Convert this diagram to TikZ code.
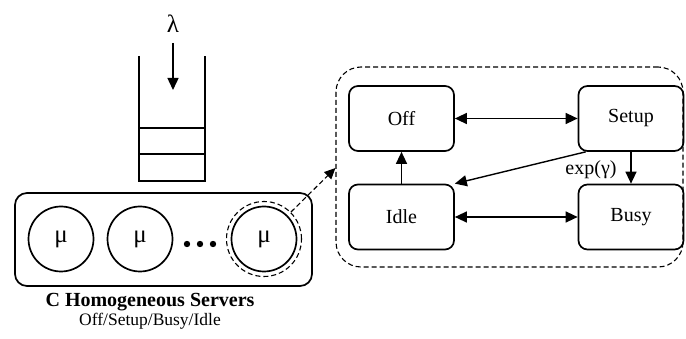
\documentclass[tikz,border=0pt]{standalone}
\usepackage{fontspec}
\setmainfont{Liberation Serif}
\usetikzlibrary{arrows.meta}
\begin{document}
\begin{tikzpicture}[x=1pt,y=-1pt,
  every node/.style={font=\fontsize{20}{24}\selectfont},
  state/.style={draw,line width=1.7pt,rounded corners=9pt,minimum width=105pt,minimum height=65pt,inner sep=0pt},
  srv/.style={draw,circle,line width=1.7pt,minimum size=65pt,inner sep=0pt,font=\fontsize{25}{28}\selectfont},
  dsh/.style={line width=1.1pt,dash pattern=on 5pt off 3pt},
  tr/.style={line width=1.4pt,-{Triangle[length=12pt,width=11pt]}},
  trr/.style={line width=1.4pt,{Triangle[length=12pt,width=11pt]}-{Triangle[length=12pt,width=11pt]}}]
\useasboundingbox (0,0) rectangle (686,339);
% arrival
\node[font=\fontsize{25}{28}\selectfont] (lam) at (173,24) {λ};
\coordinate (qin) at (173,43);
\coordinate (qtop) at (173,90);
\draw[tr] (qin) -- (qtop);
% queue
\draw[line width=1.7pt] (139,56) -- (139,181) -- (205,181) -- (205,56);
\draw[line width=1.7pt] (139,128) -- (205,128);
\draw[line width=1.7pt] (139,154) -- (205,154);
% servers
\node[draw,line width=1.7pt,rounded corners=12pt,minimum width=297pt,minimum height=93pt,inner sep=0pt] (pool) at (163.5,239.5) {};
\node[srv] (s1) at (61,239) {μ};
\node[srv] (s2) at (140,239) {μ};
\node[srv] (s3) at (264,239) {μ};
\node[draw,circle,dsh,minimum size=75pt,inner sep=0pt] (s3d) at (264,239) {};
\foreach \xx in {187,200,213} \fill (\xx,244) circle (3.2pt);
\node[font=\fontsize{20}{24}\selectfont\bfseries] (title) at (150,302) {C Homogeneous Servers};
\node[font=\fontsize{17.5}{21}\selectfont] (sub) at (150,321) {Off/Setup/Busy/Idle};
% state machine
\node[draw,dsh,rounded corners=25pt,minimum width=347pt,minimum height=200pt,inner sep=0pt] (sm) at (509.5,167) {};
\node[state] (off) at (401.5,118.5) {Off};
\node[state] (setup) at (631,118.5) {Setup};
\node[state] (idle) at (401.5,217) {Idle};
\node[state] (busy) at (631,217) {Busy};
\draw[dsh,-{Triangle[length=11pt,width=10pt]}] (s3d.45) -- (sm.west |- 0,168);
\draw[trr] (off.east) -- (setup.west);
\draw[trr] (idle.east) -- (busy.west);
\draw[tr] (idle.north) -- (off.south);
\draw[tr] (setup.south west) ++(8,0) coordinate (sw) (sw) -- (idle.north east);
\draw[tr] (setup.south) -- (busy.north);
\node (exp) at (591,170) {exp(γ)};
\end{tikzpicture}
\end{document}
